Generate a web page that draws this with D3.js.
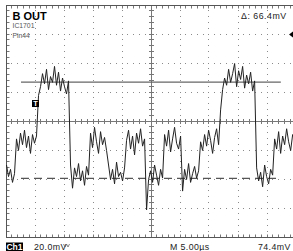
<!DOCTYPE html>
<html>
<head>
<meta charset="utf-8">
<script src="https://cdn.jsdelivr.net/npm/d3@7"></script>
<style>
  html, body { margin: 0; padding: 0; background: #fff; }
  svg { display: block; }
  text { font-family: "Liberation Sans", Arial, sans-serif; }
</style>
</head>
<body>
<script>
// scope settings (from the screen readout)
var voltsPerDiv = 20;      // mV / div
var timePerDiv = 5;        // µs / div
var sampleStep = 0.345;    // µs between samples
var cursorLevels = [27.2, -39.2];   // mV, solid / dashed cursor
var cursorSpan = [2.5, 47.3];       // µs
var triggerMark = {t: 5.0, v: 12.4};
var triggerLevelMark = 60;          // mV, little arrow on the right

var labels = {
  title: "B OUT",
  ic: "IC1701",
  pin: "Pin44",
  delta: "\u0394: 66.4mV",
  ch: "Ch1",
  scale: "20.0mV",
  time: "M 5.00\u00b5s",
  trig: "74.4mV"
};

// channel 1 samples in mV
var samples = [
  -30, -38, -33, -42, -36,
  -12, -20, -8, -16, -6, -18, -10, -22, -9, -15,
  -10,
  18, 24, 33, 26, 36, 22, 31, 27, 38, 25, 34, 21, 30, 24, 19, 28,
  -30,
  -46, -32, -38, -29, -41, -34, -44, -31, -37,
  -8, -18, -4, -14, -22, -7, -16, -11, -20,
  -30, -40, -33, -43, -28, -38, -35, -41, -32,
  -13, -6, -19, -10, -23, -8, -15, -5, -17, -12,
  -61,
  -40, -34, -42, -30, -37, -44, -33, -39,
  -9, -17, -6, -21, -12, -4, -15, -19, -10,
  -48, -33, -40, -29, -42, -36, -31, -39, -34,
  -14, -20, -9, -17, -6, -13, -22, -11, -5, -16,
  8,
  22, 30, 25, 36, 27, 33, 40, 24, 35, 29, 38, 23, 32, 26, 34, 21, 28,
  -32, -41, -35, -45, -30, -38, -43, -33, -37,
  -12, -19, -7, -22, -10, -16, -5, -14, -20, -9, -13
];

var W = 293, H = 251;
var svg = d3.select("body").append("svg")
    .attr("width", W)
    .attr("height", H);

// 10 x 8 divisions
var x = d3.scaleLinear().domain([0, 10 * timePerDiv]).range([6.5, 296.5]);
var y = d3.scaleLinear().domain([-4 * voltsPerDiv, 4 * voltsPerDiv]).range([237.5, 5.5]);

var tMid = 5 * timePerDiv;
var minorT = timePerDiv / 5, minorV = voltsPerDiv / 5;

// ****************** graticule ***************************
var grid = svg.append("g");

// dotted grid: dots on every minor step along each major line
var majT = d3.range(timePerDiv, 10 * timePerDiv, timePerDiv).filter(function(t) { return t != tMid; });
var majV = d3.range(-3 * voltsPerDiv, 4 * voltsPerDiv, voltsPerDiv).filter(function(v) { return v != 0; });
var dots = [];
majT.forEach(function(t) {
  d3.range(-4 * voltsPerDiv + minorV, 4 * voltsPerDiv, minorV).forEach(function(v) { dots.push([t, v]); });
});
majV.forEach(function(v) {
  d3.range(minorT, 10 * timePerDiv, minorT).forEach(function(t) { dots.push([t, v]); });
});
grid.selectAll("rect.dot").data(dots).enter().append("rect")
    .attr("class", "dot")
    .attr("x", function(d) { return Math.round(x(d[0])) - 1; })
    .attr("y", function(d) { return Math.round(y(d[1])) - 1; })
    .attr("width", 1).attr("height", 1)
    .attr("fill", "#8a8a8a");

// centre cross
grid.append("line")
    .attr("x1", x(0)).attr("x2", x(10 * timePerDiv))
    .attr("y1", y(0)).attr("y2", y(0))
    .attr("stroke", "#777").attr("stroke-width", 1);
grid.append("line")
    .attr("x1", x(tMid)).attr("x2", x(tMid))
    .attr("y1", y(4 * voltsPerDiv)).attr("y2", y(-4 * voltsPerDiv))
    .attr("stroke", "#777").attr("stroke-width", 1);

// ticks on the centre cross
var tTicks = d3.range(minorT, 10 * timePerDiv, minorT);
var vTicks = d3.range(-4 * voltsPerDiv + minorV, 4 * voltsPerDiv, minorV);
grid.selectAll("line.ct").data(tTicks).enter().append("line")
    .attr("x1", function(d) { return Math.round(x(d)) - 0.5; })
    .attr("x2", function(d) { return Math.round(x(d)) - 0.5; })
    .attr("y1", y(0) - 2.5).attr("y2", y(0) + 2.5)
    .attr("stroke", "#777");
grid.selectAll("line.cv").data(vTicks).enter().append("line")
    .attr("y1", function(d) { return Math.round(y(d)) - 0.5; })
    .attr("y2", function(d) { return Math.round(y(d)) - 0.5; })
    .attr("x1", x(tMid) - 2.5).attr("x2", x(tMid) + 2.5)
    .attr("stroke", "#777");

// ticks on the frame
grid.selectAll("line.ft").data(tTicks).enter().append("line")
    .attr("x1", function(d) { return Math.round(x(d)) - 0.5; })
    .attr("x2", function(d) { return Math.round(x(d)) - 0.5; })
    .attr("y1", y(4 * voltsPerDiv)).attr("y2", y(4 * voltsPerDiv) + 3)
    .attr("stroke", "#777");
grid.selectAll("line.fb").data(tTicks).enter().append("line")
    .attr("x1", function(d) { return Math.round(x(d)) - 0.5; })
    .attr("x2", function(d) { return Math.round(x(d)) - 0.5; })
    .attr("y1", y(-4 * voltsPerDiv)).attr("y2", y(-4 * voltsPerDiv) - 3)
    .attr("stroke", "#777");
grid.selectAll("line.fl").data(vTicks).enter().append("line")
    .attr("y1", function(d) { return Math.round(y(d)) - 0.5; })
    .attr("y2", function(d) { return Math.round(y(d)) - 0.5; })
    .attr("x1", x(0)).attr("x2", x(0) + 3)
    .attr("stroke", "#777");

// frame
grid.append("rect")
    .attr("x", x(0)).attr("y", y(4 * voltsPerDiv))
    .attr("width", x(10 * timePerDiv) - x(0))
    .attr("height", y(-4 * voltsPerDiv) - y(4 * voltsPerDiv))
    .attr("fill", "none").attr("stroke", "#555");

// ****************** cursors ***************************
svg.append("line")
    .attr("x1", x(cursorSpan[0])).attr("x2", x(cursorSpan[1]))
    .attr("y1", y(cursorLevels[0])).attr("y2", y(cursorLevels[0]))
    .attr("stroke", "#666").attr("stroke-width", 1.2);
svg.append("line")
    .attr("x1", x(cursorSpan[0])).attr("x2", x(cursorSpan[1]))
    .attr("y1", y(cursorLevels[1])).attr("y2", y(cursorLevels[1]))
    .attr("stroke", "#555").attr("stroke-width", 1.2)
    .attr("stroke-dasharray", "8,5");

// ****************** trace ***************************
var line = d3.line()
    .x(function(d, i) { return x(i * sampleStep); })
    .y(function(d) { return y(d); });
svg.append("path")
    .datum(samples)
    .attr("d", line)
    .attr("fill", "none")
    .attr("stroke", "#222")
    .attr("stroke-width", 1)
    .attr("stroke-linejoin", "round");

// trigger marker "T"
var tx = x(triggerMark.t), ty = y(triggerMark.v);
svg.append("rect")
    .attr("x", tx - 3.5).attr("y", ty - 3.5)
    .attr("width", 7).attr("height", 7)
    .attr("fill", "#000");
svg.append("text")
    .attr("x", tx).attr("y", ty + 2.8)
    .attr("text-anchor", "middle")
    .attr("font-size", 7.5).attr("font-weight", "bold")
    .attr("fill", "#fff")
    .text("T");

// trigger level arrow on the right edge
var ay = y(triggerLevelMark);
svg.append("path")
    .attr("d", "M289," + ay + " L293," + (ay - 3) + " L293," + (ay + 3) + " Z")
    .attr("fill", "#000");

// ****************** labels ***************************
svg.append("text").attr("x", 12.5).attr("y", 20)
    .attr("font-size", 11).attr("font-weight", "bold").attr("fill", "#000")
    .text(labels.title);
svg.append("text").attr("x", 12.5).attr("y", 27.5)
    .attr("font-size", 6.8).attr("fill", "#555")
    .text(labels.ic);
svg.append("text").attr("x", 12.5).attr("y", 37.5)
    .attr("font-size", 6.8).attr("fill", "#555")
    .text(labels.pin);
svg.append("text").attr("x", 241).attr("y", 18.5)
    .attr("font-size", 8.8).attr("letter-spacing", 0.5).attr("fill", "#222")
    .text(labels.delta);

// bottom readout
svg.append("rect").attr("x", 6).attr("y", 242.5).attr("width", 17).attr("height", 9).attr("fill", "#000");
svg.append("text").attr("x", 14.5).attr("y", 250)
    .attr("text-anchor", "middle")
    .attr("font-size", 8.5).attr("font-weight", "bold").attr("fill", "#fff")
    .text(labels.ch);
svg.append("text").attr("x", 34).attr("y", 249.5)
    .attr("font-size", 8.8).attr("letter-spacing", 0.4).attr("fill", "#222")
    .text(labels.scale);
// small bandwidth squiggle after the scale
svg.append("path")
    .attr("d", "M63.5,244 L65,247 L66.5,244 L68,247 L69.5,244")
    .attr("fill", "none").attr("stroke", "#555").attr("stroke-width", 0.7);
svg.append("text").attr("x", 170).attr("y", 249.5)
    .attr("font-size", 8.8).attr("letter-spacing", 0.4).attr("fill", "#222")
    .text(labels.time);
svg.append("text").attr("x", 258).attr("y", 249.5)
    .attr("font-size", 8.8).attr("letter-spacing", 0.4).attr("fill", "#222")
    .text(labels.trig);
</script>
</body>
</html>
